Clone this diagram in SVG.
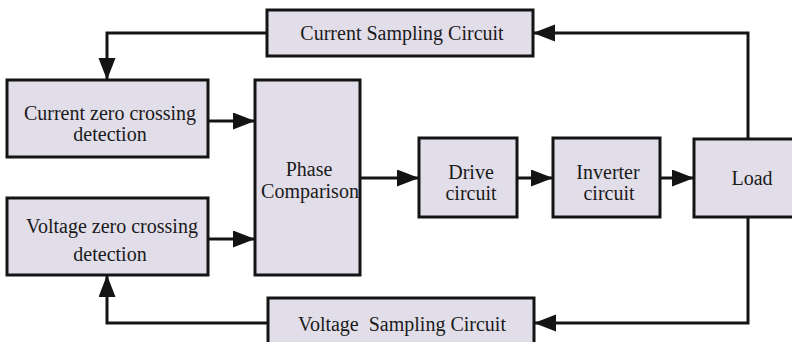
<svg xmlns="http://www.w3.org/2000/svg" width="792" height="342" viewBox="0 0 792 342">
<style>
.box{fill:#e2dee9;stroke:#141414;stroke-width:3}
.t{font-family:"Liberation Serif","Times New Roman",serif;font-size:20px;fill:#1a1a1a;text-anchor:middle;white-space:pre}
.c{fill:none;stroke:#141414;stroke-width:3}
</style>
<defs>
<marker id="ah" markerUnits="userSpaceOnUse" markerWidth="22" markerHeight="18" refX="21" refY="8.5" orient="auto">
<path d="M0,0 L22,8.5 L0,17 z" fill="#141414"/>
</marker>
</defs>
<rect width="792" height="342" fill="#ffffff"/>
<g id="connectors">
<path class="c" d="M267,33 H107 V79" marker-end="url(#ah)"/>
<path class="c" d="M748,139 V33 H534" marker-end="url(#ah)"/>
<path class="c" d="M268,323 H107 V276" marker-end="url(#ah)"/>
<path class="c" d="M748,217 V323 H535" marker-end="url(#ah)"/>
<path class="c" d="M209,121 H254" marker-end="url(#ah)"/>
<path class="c" d="M209,239 H254" marker-end="url(#ah)"/>
<path class="c" d="M358,178 H418" marker-end="url(#ah)"/>
<path class="c" d="M518,178 H552" marker-end="url(#ah)"/>
<path class="c" d="M661,178 H693" marker-end="url(#ah)"/>
</g>
<g id="current-sampling">
<rect class="box" x="267" y="10" width="266" height="46"/>
<text class="t" x="402" y="40">Current Sampling Circuit</text>
</g>
<g id="current-zero">
<rect class="box" x="7" y="80" width="201" height="77"/>
<text class="t" x="110" y="120">Current zero crossing</text>
<text class="t" x="110" y="141">detection</text>
</g>
<g id="voltage-zero">
<rect class="box" x="7" y="198" width="201" height="77"/>
<text class="t" x="112" y="233">Voltage zero crossing</text>
<text class="t" x="110" y="261">detection</text>
</g>
<g id="phase-comparison">
<rect class="box" x="255" y="80" width="105" height="195"/>
<text class="t" x="309" y="176">Phase</text>
<text class="t" x="310" y="198">Comparison</text>
</g>
<g id="drive">
<rect class="box" x="419" y="138" width="98" height="79"/>
<text class="t" x="471" y="179">Drive</text>
<text class="t" x="471" y="200">circuit</text>
</g>
<g id="inverter">
<rect class="box" x="553" y="138" width="107" height="79"/>
<text class="t" x="608" y="179">Inverter</text>
<text class="t" x="609" y="200">circuit</text>
</g>
<g id="load">
<rect class="box" x="694" y="139" width="110" height="78"/>
<text class="t" x="752" y="185">Load</text>
</g>
<g id="voltage-sampling">
<rect class="box" x="268" y="298" width="266" height="60"/>
<text class="t" x="402" y="331" xml:space="preserve">Voltage  Sampling Circuit</text>
</g>
</svg>
